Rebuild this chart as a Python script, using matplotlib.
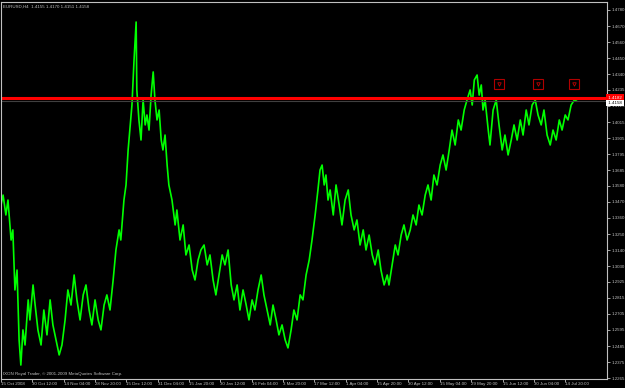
import matplotlib
matplotlib.use("Agg")
import matplotlib.pyplot as plt

# EURUSD H4 closes (bar index, price)
bars = [0, 6, 14, 20, 29, 34, 40, 46, 52, 57, 63, 69, 78, 83, 92, 98, 106, 115, 123, 132,
        141, 149, 158, 167, 175, 184, 192, 201, 210, 218, 227, 236, 244, 253, 261, 270, 279, 287, 296, 304,
        313, 322, 330, 339, 344, 353, 359, 365, 370, 376, 382, 388, 390, 396, 402, 408, 414, 419, 425, 431,
        437, 442, 448, 454, 460, 465, 471, 477, 482, 491, 500, 505, 514, 523, 531, 540, 549, 557, 566, 574,
        583, 592, 600, 609, 617, 626, 635, 643, 652, 661, 669, 678, 686, 695, 704, 712, 721, 729, 738, 747,
        755, 764, 773, 781, 790, 798, 807, 816, 824, 833, 841, 850, 859, 867, 876, 885, 893, 902, 910, 916,
        922, 928, 933, 939, 945, 954, 962, 971, 979, 988, 997, 1005, 1014, 1022, 1031, 1040, 1048, 1057, 1066, 1074,
        1083, 1091, 1100, 1109, 1114, 1123, 1132, 1140, 1149, 1157, 1166, 1175, 1183, 1192, 1200, 1209, 1218, 1226, 1235, 1243,
        1252, 1261, 1269, 1278, 1287, 1295, 1304, 1313, 1321, 1330, 1338, 1347, 1353, 1359, 1367, 1373, 1379, 1384, 1390, 1399,
        1404, 1413, 1422, 1430, 1439, 1447, 1456, 1465, 1473, 1482, 1491, 1499, 1508, 1516, 1525, 1534, 1542, 1551, 1559, 1568,
        1577, 1585, 1594, 1603, 1611, 1620, 1628, 1637, 1646, 1652]
close = [1.3448, 1.3516, 1.3380, 1.3482, 1.3209, 1.3278, 1.2868, 1.3004, 1.2526, 1.2355,
         1.2595, 1.2492, 1.2800, 1.2663, 1.2902, 1.2765, 1.2595, 1.2492, 1.2731, 1.2561,
         1.2800, 1.2629, 1.2526, 1.2424, 1.2492, 1.2663, 1.2868, 1.2765, 1.2970, 1.2800,
         1.2663, 1.2834, 1.2902, 1.2731, 1.2629, 1.2800, 1.2663, 1.2595, 1.2765, 1.2834,
         1.2731, 1.2936, 1.3141, 1.3278, 1.3209, 1.3482, 1.3585, 1.3824, 1.3960, 1.4131,
         1.4439, 1.4698, 1.4234, 1.4029, 1.3892, 1.4165, 1.3995, 1.4063, 1.3960, 1.4199,
         1.4357, 1.4165, 1.4029, 1.4097, 1.3892, 1.3824, 1.3926, 1.3721, 1.3585, 1.3482,
         1.3312, 1.3414, 1.3209, 1.3312, 1.3107, 1.3175, 1.3004, 1.2936, 1.3073, 1.3141,
         1.3175, 1.3039, 1.3107, 1.2936, 1.2834, 1.2970, 1.3107, 1.3039, 1.3141, 1.2902,
         1.2800, 1.2902, 1.2731, 1.2868, 1.2765, 1.2663, 1.2800, 1.2731, 1.2868, 1.2970,
         1.2834, 1.2731, 1.2629, 1.2765, 1.2663, 1.2561, 1.2629, 1.2526, 1.2472, 1.2595,
         1.2731, 1.2663, 1.2834, 1.2800, 1.2970, 1.3073, 1.3209, 1.3380, 1.3551, 1.3687,
         1.3721, 1.3585, 1.3653, 1.3482, 1.3551, 1.3380, 1.3585, 1.3448, 1.3312, 1.3482,
         1.3551, 1.3380, 1.3278, 1.3346, 1.3175, 1.3278, 1.3141, 1.3243, 1.3107, 1.3039,
         1.3141, 1.3004, 1.2902, 1.2970, 1.2902, 1.3039, 1.3175, 1.3107, 1.3243, 1.3312,
         1.3209, 1.3278, 1.3380, 1.3312, 1.3448, 1.3380, 1.3516, 1.3585, 1.3482, 1.3653,
         1.3585, 1.3721, 1.3790, 1.3687, 1.3824, 1.3960, 1.3858, 1.4029, 1.3960, 1.4097,
         1.4165, 1.4234, 1.4131, 1.4302, 1.4336, 1.4199, 1.4268, 1.4097, 1.4165, 1.3960,
         1.3858, 1.4097, 1.4165, 1.3995, 1.3824, 1.3926, 1.3790, 1.3892, 1.3995, 1.3892,
         1.4029, 1.3926, 1.4097, 1.3995, 1.4131, 1.4165, 1.4063, 1.3995, 1.4097, 1.3926,
         1.3858, 1.3960, 1.3892, 1.4029, 1.3960, 1.4063, 1.4029, 1.4131, 1.4165, 1.4158]

level = 1.4182
bid = 1.4158
signal_bars = [1430, 1542, 1646]
signal_price = [1.4275, 1.4275, 1.4275]

xtick_bars = list(range(0, 1621, 90))
xtick_labels = ["15 Oct 2008", "30 Oct 12:00", "14 Nov 04:00", "28 Nov 20:00", "15 Dec 12:00",
                "31 Dec 04:00", "15 Jan 20:00", "30 Jan 12:00", "16 Feb 04:00", "3 Mar 20:00",
                "17 Mar 12:00", "1 Apr 04:00", "15 Apr 20:00", "30 Apr 12:00", "15 May 04:00",
                "29 May 20:00", "15 Jun 12:00", "30 Jun 04:00", "14 Jul 20:00"]
ytick_vals = [1.4780, 1.4670, 1.4560, 1.4450, 1.4340, 1.4235, 1.4125, 1.4015, 1.3905, 1.3795,
              1.3685, 1.3580, 1.3470, 1.3360, 1.3250, 1.3140, 1.3030, 1.2925, 1.2815, 1.2705,
              1.2595, 1.2485, 1.2375, 1.2265]

plt.rcParams['font.family'] = ['Liberation Sans', 'DejaVu Sans']
fg = '#c0c0c0'
fs = 3.2

fig = plt.figure(figsize=(6.25, 3.88), dpi=100, facecolor='black')
ax = fig.add_axes([1/625, 9/388, 606/625, 377/388], facecolor='black')

ax.plot(bars, close, color='#00ff00', lw=1.2)
ax.axhline(level, color='#ff0000', lw=2.2)
ax.axhline(bid, color='#404040', lw=0.8)
ax.plot(signal_bars, signal_price, ls='none', marker='s', ms=6.5, mfc='none', mec='#b00000', mew=0.8)
ax.plot(signal_bars, signal_price, ls='none', marker='v', ms=2.5, mfc='none', mec='#c00000', mew=0.6)

ax.set_xlim(0, 1740)
ax.set_ylim(1.22597, 1.48346)

ax.yaxis.tick_right()
ax.set_yticks(ytick_vals)
ax.set_yticklabels(['%.4f' % v for v in ytick_vals])
ax.set_xticks(xtick_bars)
ax.set_xticklabels(xtick_labels, ha='left')
ax.tick_params(axis='y', colors=fg, labelsize=fs, length=2, width=0.6, pad=1)
ax.tick_params(axis='x', colors=fg, labelsize=fs, length=2, width=0.6, pad=0.2)
for s in ax.spines.values():
    s.set_color(fg)
    s.set_linewidth(0.8)

# price labels on the right scale
ax.text(1.0, level, ' %.4f ' % level, transform=ax.get_yaxis_transform(), ha='left', va='center',
        fontsize=fs, color='white', clip_on=False,
        bbox=dict(boxstyle='square,pad=0.25', fc='#ff0000', ec='none'))
ax.text(1.0, bid - 0.0012, ' %.4f ' % bid, transform=ax.get_yaxis_transform(), ha='left', va='center',
        fontsize=fs, color='black', clip_on=False,
        bbox=dict(boxstyle='square,pad=0.25', fc='white', ec='none'))

ax.text(0.004, 0.993, 'EURUSD,H4  1.4155 1.4170 1.4151 1.4158', transform=ax.transAxes,
        ha='left', va='top', fontsize=fs, color=fg)
ax.text(0.004, 0.008, 'IXON Royal Trader, \u00a9 2001-2009 MetaQuotes Software Corp.', transform=ax.transAxes,
        ha='left', va='bottom', fontsize=fs, color=fg)

plt.savefig('out.png', dpi=100, facecolor='black')
